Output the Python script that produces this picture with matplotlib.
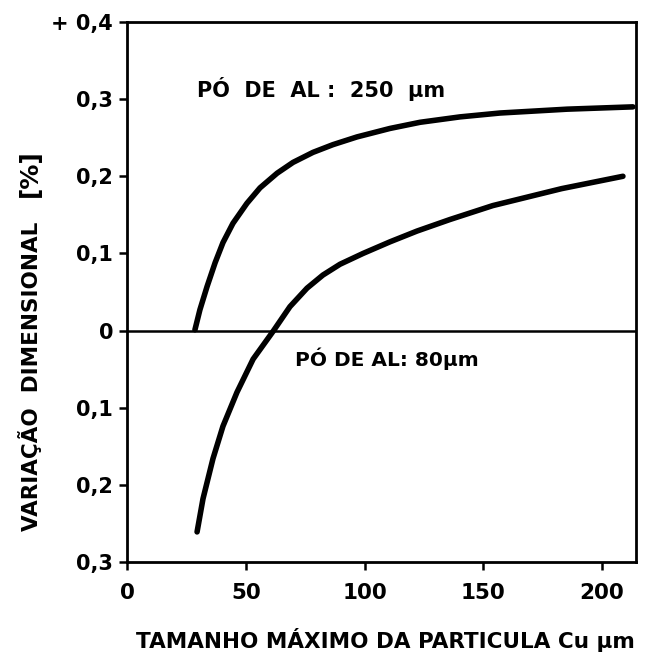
import matplotlib
matplotlib.use("Agg")
import matplotlib.pyplot as plt

# Data
x_250 = [28.6, 30.7, 33.7, 37.1, 40.4, 44.6, 50.5, 56.0, 63.2, 69.9, 78.3, 86.7, 96.8,
         110.7, 123.4, 140.2, 157.0, 185.3, 213.0]
y_250 = [0.001, 0.027, 0.057, 0.088, 0.114, 0.139, 0.165, 0.185, 0.204, 0.218, 0.231, 0.241, 0.251,
         0.262, 0.270, 0.277, 0.282, 0.287, 0.290]

x_80 = [29.5, 32.0, 36.2, 40.4, 46.3, 53.1, 61.5, 68.6, 75.8, 82.5, 89.7, 99.4,
        110.7, 122.1, 136.0, 154.0, 183.0, 208.8]
y_80 = [-0.261, -0.218, -0.166, -0.124, -0.080, -0.037, -0.001, 0.031, 0.055, 0.072, 0.086, 0.100,
        0.115, 0.129, 0.144, 0.162, 0.184, 0.200]

x_ticks = [0, 50, 100, 150, 200]
x_tick_labels = ["0", "50", "100", "150", "200"]
y_ticks = [-0.3, -0.2, -0.1, 0.0, 0.1, 0.2, 0.3, 0.4]
y_tick_labels = ["0,3", "0,2", "0,1", "0", "0,1", "0,2", "0,3", "+ 0,4"]

label_250 = "PÓ  DE  AL :  250  µm"
label_80 = "PÓ DE AL: 80µm"
x_title = "TAMANHO MÁXIMO DA PARTICULA Cu µm"
y_title = "VARIAÇÃO  DIMENSIONAL"
y_unit = "[%]"

plt.rcParams['font.family'] = ['DejaVu Sans']
plt.rcParams['font.weight'] = 'bold'

fig = plt.figure(figsize=(6.45, 6.59), dpi=100)
ax = fig.add_axes([127/645, 1 - 562/659, (636 - 127)/645, (562 - 22)/659])

ax.plot(x_250, y_250, color='black', lw=4.0, solid_capstyle='round', solid_joinstyle='round')
ax.plot(x_80, y_80, color='black', lw=4.0, solid_capstyle='round', solid_joinstyle='round')
ax.axhline(0, color='black', lw=1.8)

ax.set_xlim(0, 214.3)
ax.set_ylim(-0.3, 0.4)
ax.set_xticks(x_ticks)
ax.set_xticklabels(x_tick_labels, fontsize=15.5, fontweight='bold')
ax.set_yticks(y_ticks)
ax.set_yticklabels(y_tick_labels, fontsize=15, fontweight='bold')
ax.tick_params(axis='both', direction='out', length=6, width=1.8, pad=4)
ax.tick_params(axis='x', pad=9)
for s in ax.spines.values():
    s.set_linewidth(2.0)

ax.text(29.5, 0.313, label_250, fontsize=15, fontweight='bold', va='center', ha='left')
ax.text(70.7, -0.037, label_80, fontsize=14.5, fontweight='bold', va='center', ha='left')

fig.text(385/645, 1 - 640/659, x_title, fontsize=15.5, fontweight='bold', ha='center', va='center')
fig.text(30/645, 1 - 376/659, y_title, fontsize=15.5, fontweight='bold', ha='center', va='center', rotation=90)
fig.text(30/645, 1 - 173/659, y_unit, fontsize=18, fontweight='bold', ha='center', va='center', rotation=90)

fig.savefig("out.png", dpi=100)
